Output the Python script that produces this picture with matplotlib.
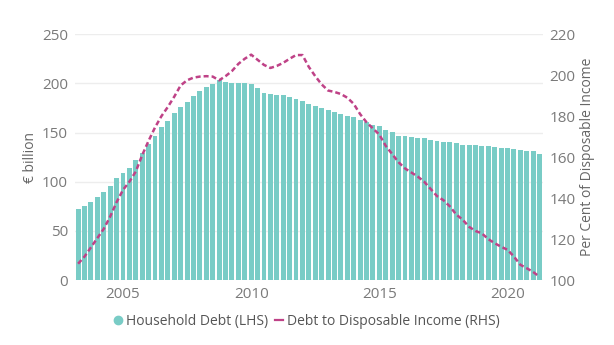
import numpy as np
import matplotlib.pyplot as plt
from matplotlib.lines import Line2D

plt.rcParams['font.family'] = ['Open Sans', 'DejaVu Sans']

# quarterly series, 2003Q1 .. 2021Q1
start_year = 2003
household_debt = [71.8, 75.6, 79.6, 84.7, 89.1, 95.5, 103.3, 108.7, 114.2, 122.0,
                  129.7, 137.9, 146.7, 155.8, 161.3, 169.4, 175.5, 181.2, 187.0, 192.4,
                  196.1, 199.5, 203.0, 200.9, 200.5, 200.5, 200.2, 199.5, 195.5, 190.7,
                  188.7, 188.0, 188.0, 186.3, 184.6, 182.2, 178.9, 177.2, 174.8, 172.8,
                  170.4, 168.8, 167.0, 166.2, 163.0, 160.5, 157.9, 156.9, 152.3, 150.6,
                  147.0, 146.0, 145.3, 144.6, 144.0, 142.3, 141.0, 140.6, 140.3, 139.0,
                  137.6, 137.2, 136.9, 136.2, 136.2, 134.9, 134.2, 134.2, 133.5, 132.1,
                  131.1, 130.8, 128.4]
debt_to_income = [108.0, 111.5, 116.0, 120.5, 125.0, 131.0, 138.0, 144.0, 148.0, 153.0,
                  161.0, 168.0, 174.5, 180.0, 184.5, 189.5, 195.0, 197.5, 198.8, 199.3,
                  199.5, 199.3, 197.5, 199.5, 202.0, 205.5, 208.0, 210.0, 207.5, 205.0,
                  203.5, 204.5, 206.0, 208.0, 209.8, 209.8, 204.0, 199.5, 195.5, 192.5,
                  191.8, 190.8, 189.0, 186.0, 181.0, 177.0, 174.0, 171.0, 165.5, 161.5,
                  157.5, 154.5, 152.5, 150.5, 148.0, 144.5, 141.0, 139.0, 136.0, 132.0,
                  129.5, 126.0, 124.0, 122.8, 120.0, 118.0, 116.3, 114.8, 111.5, 107.5,
                  105.8, 104.0, 101.6]
year_ticks = [2005, 2010, 2015, 2020]
left_ticks = [0, 50, 100, 150, 200, 250]
right_ticks = [100, 120, 140, 160, 180, 200, 220]

# quarter-end positions on a decimal-year axis
x = start_year + 0.25 * (np.arange(len(household_debt)) + 1)

bar_col = '#79CCC6'
line_col = '#BF4287'
tick_col = '#7A7A7A'

fig = plt.figure(figsize=(6.14, 3.45), dpi=100)
ax = fig.add_axes([0.122, 0.188, 0.762, 0.713])
ax.bar(x, household_debt, width=0.25 * 0.76, color=bar_col, zorder=2)
ax.set_ylim(0, 250)
ax.set_yticks(left_ticks)
ax.set_xlim(x[0] - 0.125, x[-1] + 0.125)
ax.set_xticks(year_ticks)
ax.set_xticklabels([str(y) for y in year_ticks])
ax.grid(axis='y', color='#EDEDED', linewidth=1)
ax.set_axisbelow(True)
ax.set_ylabel('€ billion', color='#666666', fontsize=10, labelpad=3)

ax2 = ax.twinx()
ax2.plot(x, debt_to_income, color=line_col, linewidth=1.8, linestyle=(0, (2.0, 1.2)), zorder=3)
ax2.set_ylim(100, 220)
ax2.set_yticks(right_ticks)
ax2.set_ylabel('Per Cent of Disposable Income', color='#666666', fontsize=10, labelpad=3)

for a in (ax, ax2):
    for s in a.spines.values():
        s.set_visible(False)
    a.tick_params(length=0, labelsize=11, labelcolor=tick_col, pad=5)
ax.tick_params(axis='x', pad=5)

handles = [Line2D([], [], marker='o', linestyle='none', color=bar_col, markersize=6),
           Line2D([], [], color=line_col, linewidth=1.6)]
fig.legend(handles, ['Household Debt (LHS)', 'Debt to Disposable Income (RHS)'],
           loc='center', bbox_to_anchor=(0.5, 0.068), ncol=2, frameon=False,
           fontsize=10, handlelength=0.6, handletextpad=0.25, columnspacing=0.5,
           labelcolor='#555555')

fig.savefig('out.png', dpi=100)
